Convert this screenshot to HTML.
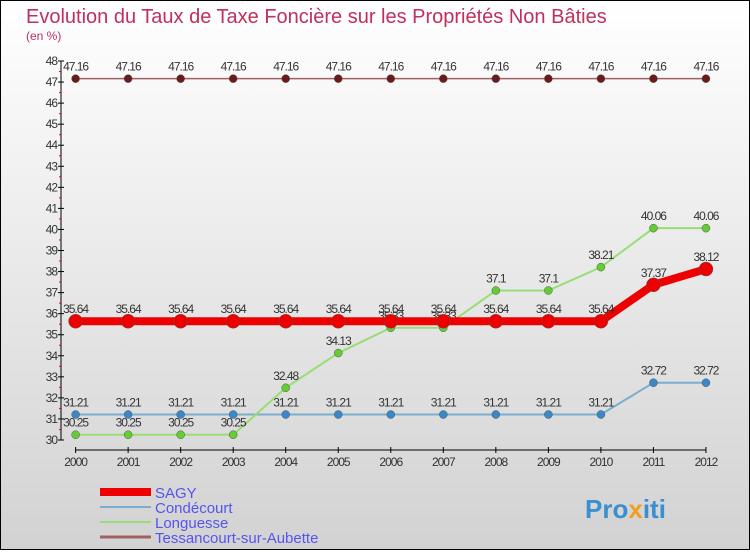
<!DOCTYPE html>
<html><head><meta charset="utf-8"><style>
body{margin:0}
#c{width:750px;height:550px;position:relative;font-family:"Liberation Sans",sans-serif}
</style></head><body>
<div id="c">
<svg id="s" width="750" height="550" xmlns="http://www.w3.org/2000/svg">
<defs><linearGradient id="bg" x1="0" y1="0" x2="0" y2="1"><stop offset="0" stop-color="#ffffff"/><stop offset="1" stop-color="#d2d2d2"/></linearGradient></defs>
<rect x="0.5" y="0.5" width="749" height="549" fill="url(#bg)" stroke="#000"/>
<text x="26" y="23" font-size="20" fill="#c0305a">Evolution du Taux de Taxe Foncière sur les Propriétés Non Bâties</text>
<text x="26" y="40" font-size="12" fill="#c0305a">(en %)</text>
<g id="axes"></g><g id="series"></g><g id="legend"></g>
<text x="585" y="518" font-size="26" font-weight="bold" fill="#3a8fd0">Pro<tspan fill="#f0a020">x</tspan>iti</text>
</svg></div>
<script>
const years=[2000,2001,2002,2003,2004,2005,2006,2007,2008,2009,2010,2011,2012];
const sagy=[35.64,35.64,35.64,35.64,35.64,35.64,35.64,35.64,35.64,35.64,35.64,37.37,38.12];
const condecourt=[31.21,31.21,31.21,31.21,31.21,31.21,31.21,31.21,31.21,31.21,31.21,32.72,32.72];
const longuesse=[30.25,30.25,30.25,30.25,32.48,34.13,35.33,35.33,37.1,37.1,38.21,40.06,40.06];
const tessancourt=[47.16,47.16,47.16,47.16,47.16,47.16,47.16,47.16,47.16,47.16,47.16,47.16,47.16];
const yTicks=[30,31,32,33,34,35,36,37,38,39,40,41,42,43,44,45,46,47,48];
const NS="http://www.w3.org/2000/svg";
const x=i=>75.6+i*52.53;
const y=v=>440-(v-30)*(379/18);
function mk(t,a,p){const e=document.createElementNS(NS,t);for(const k in a)e.setAttribute(k,a[k]);p.appendChild(e);return e;}
const ax=document.getElementById('axes');
let l=mk('line',{x1:61,y1:y(48),x2:61,y2:y(30),stroke:'#000'},ax);

l=mk('line',{x1:x(0),y1:450,x2:x(12),y2:450,stroke:'#000'},ax);

yTicks.forEach(v=>{
 mk('line',{x1:58,y1:y(v),x2:64,y2:y(v),stroke:'#000'},ax);
 if(v<48)mk('line',{x1:59,y1:y(v+0.5),x2:61,y2:y(v+0.5),stroke:'#e00'},ax);
 const t=mk('text',{x:57,y:y(v)+4,'font-size':12,'text-anchor':'end',fill:'#333','letter-spacing':'-1'},ax);
 t.textContent=v;
});
years.forEach((yr,i)=>{
 mk('line',{x1:x(i),y1:447,x2:x(i),y2:453,stroke:'#000'},ax);
 const t=mk('text',{x:x(i),y:466,'font-size':12,'text-anchor':'middle',fill:'#333','letter-spacing':'-1'},ax);
 t.textContent=yr;
});
const sg=document.getElementById('series');
function draw(vals,color,lw,r,name,dot){
 const g=mk('g',{},sg);
 
 const p=mk('polyline',{points:vals.map((v,i)=>x(i)+','+y(v)).join(' '),fill:'none',stroke:color,'stroke-width':lw},g);
 
 vals.forEach((v,i)=>{
  const c=mk('circle',{cx:x(i),cy:y(v),r:r,fill:dot,stroke:'#555','stroke-width':0.5},g);
  
  const t=mk('text',{x:x(i),y:y(v)-8,'font-size':12,'text-anchor':'middle',fill:'#333','letter-spacing':'-1'},g);
  t.textContent=v;
 });
}
draw(tessancourt,'#a06060',1.5,4,'tessancourt','#6b1a1a');
draw(condecourt,'#7aaed0',2,4,'condecourt','#3a88c8');
draw(longuesse,'#99dd77',2,4,'longuesse','#66cc33');
draw(sagy,'#ee0000',8,7,'sagy','#ee0000');
const lg=document.getElementById('legend');
const items=[['SAGY','#ee0000',8],['Condécourt','#7aaed0',2],['Longuesse','#99dd77',2],['Tessancourt-sur-Aubette','#a06060',3]];
items.forEach((it,i)=>{
 const yy=492+i*15;
 const ln=mk('line',{x1:100,y1:yy,x2:151,y2:yy,stroke:it[1],'stroke-width':it[2]},lg);
 
 const t=mk('text',{x:155,y:yy+6,'font-size':15,fill:'#5555ee'},lg);
 t.textContent=it[0];
});
</script>
</body></html>
